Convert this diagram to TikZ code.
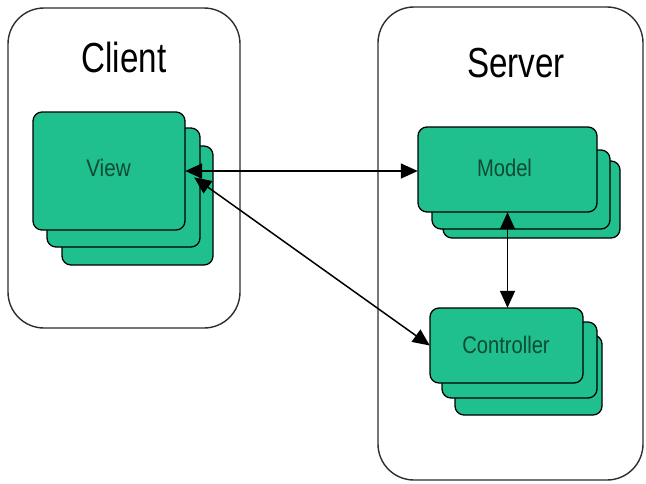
\documentclass[tikz,border=0pt]{standalone}
\usepackage{fontspec}
\setmainfont{Liberation Sans}
\usetikzlibrary{arrows.meta}

\definecolor{tierline}{HTML}{2E2E2E}
\definecolor{compfill}{HTML}{1FBF8E}
\definecolor{comptext}{HTML}{0F4A35}

\tikzset{
  tier/.style={draw=tierline, line width=1.4pt, rounded corners=36pt},
  card/.style={draw=black, line width=1.3pt, fill=compfill, rounded corners=9pt},
  tiertitle/.style={anchor=base, font=\fontsize{42}{48}\selectfont, text=black, inner sep=0pt},
  cardlabel/.style={anchor=base, font=\fontsize{24}{28}\selectfont, text=comptext, inner sep=0pt},
  link/.style={line width=1.5pt, {Triangle[length=17pt,width=15pt]}-{Triangle[length=17pt,width=15pt]}},
}

\begin{document}
\begin{tikzpicture}[x=1pt, y=-1pt]
  \useasboundingbox (0,0) rectangle (646,483);
  \fill[white] (0,0) rectangle (646,483);

  % the two tiers
  \draw[tier] (8,8) rectangle (240,328);
  \draw[tier] (378,7) rectangle (643,480);
  \node[tiertitle] (clienttitle) at (124,72) {\scalebox{0.79}[1]{Client}};
  \node[tiertitle] (servertitle) at (516,77) {\scalebox{0.79}[1]{Server}};

  % View stack (client side)
  \draw[card] (62,146) rectangle (213,265);
  \draw[card] (47,128) rectangle (200,247);
  \draw[card] (33,112) rectangle (185,230);
  \node[inner sep=0pt, minimum width=152pt, minimum height=118pt] (viewbox) at (109,171) {};
  \node[cardlabel] (viewlabel) at (108.5,176) {\scalebox{0.86}[1]{View}};

  % Model stack (server side)
  \draw[card] (443,161) rectangle (620,238);
  \draw[card] (432,150) rectangle (610,229);
  \draw[card] (418,127) rectangle (597,212);
  \node[inner sep=0pt, minimum width=179pt, minimum height=85pt] (modelbox) at (507.5,169.5) {};
  \node[cardlabel] (modellabel) at (504.5,176) {\scalebox{0.84}[1]{Model}};

  % Controller stack (server side)
  \draw[card] (455,335) rectangle (602,415);
  \draw[card] (442,322) rectangle (597,398);
  \draw[card] (430,308) rectangle (583,383);
  \node[inner sep=0pt, minimum width=153pt, minimum height=75pt] (ctrlbox) at (506.5,345.5) {};
  \node[cardlabel] (ctrllabel) at (506,353) {\scalebox{0.84}[1]{Controller}};

  % connectors
  \draw[link] (viewbox.east) -- (viewbox.east -| modelbox.west);
  \draw[link, shorten <=11pt] (viewbox.east) -- (ctrlbox.west);
  \draw[link] (modelbox.south) -- (modelbox.south |- ctrlbox.north);
\end{tikzpicture}
\end{document}
